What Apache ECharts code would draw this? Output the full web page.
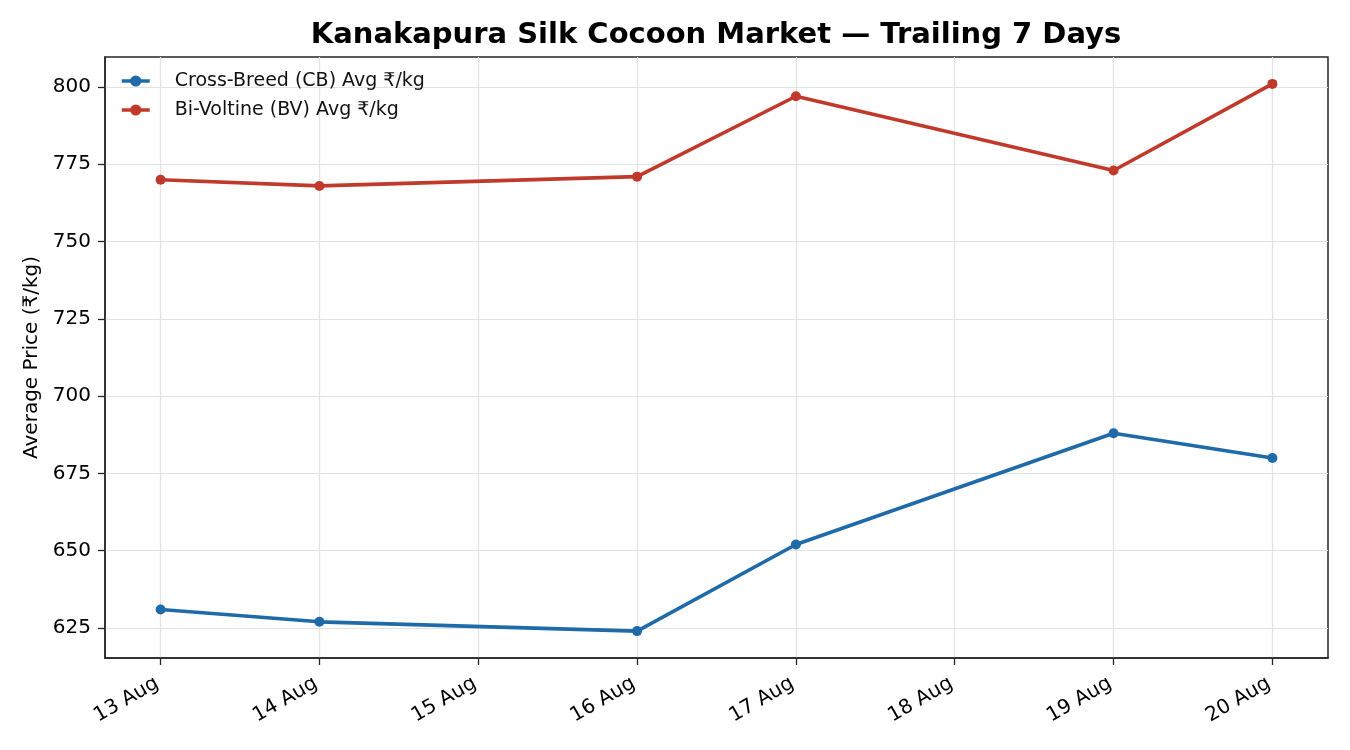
<!DOCTYPE html>
<html>
<head>
<meta charset="utf-8">
<script src="https://cdn.jsdelivr.net/npm/echarts@6/dist/echarts.min.js"></script>
<style>
  html, body { margin: 0; padding: 0; background: #fff; }
  #chart { width: 1350px; height: 750px; }
</style>
</head>
<body>
<div id="chart"></div>
<script>
// day of month (August) for each observation
var days = [13, 14, 16, 17, 19, 20];
var cbPrice = [631, 627, 624, 652, 688, 680];
var bvPrice = [770, 768, 771, 797, 773, 801];

var xTickDays = [13, 14, 15, 16, 17, 18, 19, 20];
var yTicks = [625, 650, 675, 700, 725, 750, 775, 800];

function pairs(xs, ys) {
	var out = [];
	for (var i = 0; i < xs.length; i++) {
		out.push([xs[i], ys[i]]);
	}
	return out;
}

var chart = echarts.init(document.getElementById('chart'));
var font = 'DejaVu Sans';

var option = {
	backgroundColor: '#ffffff',
	animation: false,
	textStyle: { fontFamily: font },
	title: {
		text: 'Kanakapura Silk Cocoon Market — Trailing 7 Days',
		left: 716,
		textAlign: 'center',
		top: 21,
		padding: 0,
		textStyle: { fontFamily: font, fontSize: 29, fontWeight: 'bold', color: '#000' }
	},
	legend: {
		left: 120,
		top: 71,
		padding: 0,
		orient: 'vertical',
		itemWidth: 28,
		itemHeight: 14,
		itemGap: 9,
		lineStyle: { width: 3.5 },
		textStyle: { fontFamily: font, fontSize: 19, lineHeight: 20, color: '#111', padding: [0, 0, 0, 20] },
		data: ['Cross-Breed (CB) Avg ₹/kg', 'Bi-Voltine (BV) Avg ₹/kg']
	},
	grid: {
		left: 105,
		right: 22,
		top: 57,
		bottom: 92,
		show: true,
		borderColor: '#262626',
		borderWidth: 1.5,
		backgroundColor: 'transparent'
	},
	xAxis: {
		type: 'value',
		min: 12.65,
		max: 20.35,
		axisLine: { show: true, lineStyle: { color: '#262626', width: 1.5 } },
		axisTick: { show: true, length: 7, customValues: xTickDays, lineStyle: { color: '#262626', width: 1.3 } },
		axisLabel: {
			customValues: xTickDays,
			rotate: 30,
			margin: 22,
			padding: [0, 4, 0, 0],
			fontSize: 20,
			color: '#000',
			fontFamily: font,
			formatter: function (v) { return v + ' Aug'; }
		},
		splitLine: { show: true, lineStyle: { color: '#e2e2e2', width: 1.2 } }
	},
	yAxis: {
		type: 'value',
		min: 615.3,
		max: 809.7,
		name: 'Average Price (₹/kg)',
		nameLocation: 'middle',
		nameGap: 62,
		nameTextStyle: { fontFamily: font, fontSize: 20, color: '#000' },
		axisLine: { show: true, lineStyle: { color: '#262626', width: 1.5 } },
		axisTick: { show: true, length: 7, customValues: yTicks, lineStyle: { color: '#262626', width: 1.3 } },
		axisLabel: {
			customValues: yTicks,
			margin: 14,
			fontSize: 20,
			color: '#000',
			fontFamily: font
		},
		splitLine: { show: true, lineStyle: { color: '#e2e2e2', width: 1.2 } }
	},
	series: [
		{
			name: 'Cross-Breed (CB) Avg ₹/kg',
			type: 'line',
			data: pairs(days, cbPrice),
			symbol: 'circle',
			symbolSize: 10,
			lineStyle: { width: 3.6, color: '#1f6aa8' },
			itemStyle: { color: '#1f6aa8' }
		},
		{
			name: 'Bi-Voltine (BV) Avg ₹/kg',
			type: 'line',
			data: pairs(days, bvPrice),
			symbol: 'circle',
			symbolSize: 10,
			lineStyle: { width: 3.6, color: '#c0392b' },
			itemStyle: { color: '#c0392b' }
		}
	]
};

chart.setOption(option);
</script>
</body>
</html>
